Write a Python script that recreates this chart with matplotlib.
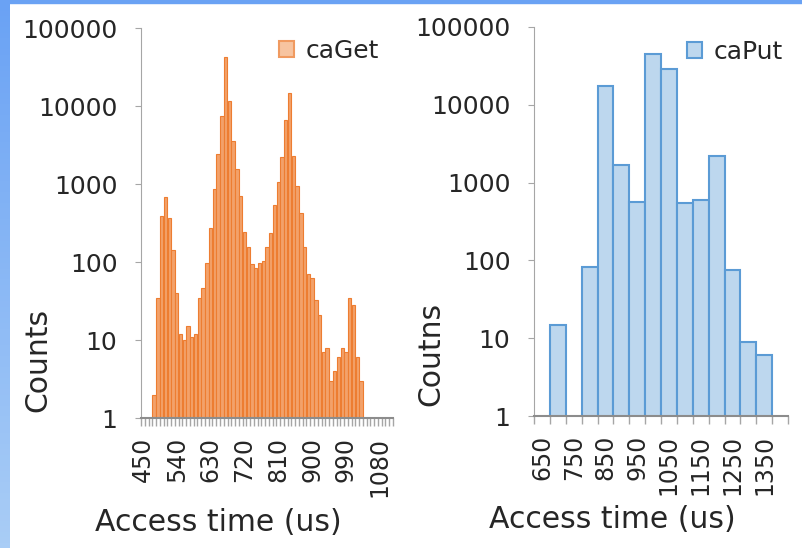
import numpy as np
import matplotlib
matplotlib.use("Agg")
import matplotlib.pyplot as plt
from matplotlib.patches import Patch

# caGet histogram, 10 us bins
caget_bins = [450, 460, 470, 480, 490, 500, 510, 520, 530, 540,
              550, 560, 570, 580, 590, 600, 610, 620, 630, 640,
              650, 660, 670, 680, 690, 700, 710, 720, 730, 740,
              750, 760, 770, 780, 790, 800, 810, 820, 830, 840,
              850, 860, 870, 880, 890, 900, 910, 920, 930, 940,
              950, 960, 970, 980, 990, 1000, 1010, 1020, 1030, 1040,
              1050, 1060, 1070, 1080, 1090, 1100, 1110]
caget_counts = [0, 0, 0, 2, 35, 390, 675, 370, 142, 40,
                12, 10, 15, 11, 12, 35, 46, 97, 270, 860,
                2400, 7500, 42000, 11500, 3600, 1560, 710, 245, 157, 95,
                85, 98, 102, 157, 234, 535, 1070, 2240, 6600, 14500,
                2280, 950, 420, 155, 71, 62, 33, 21, 7, 8,
                3, 4, 6, 8, 7, 35, 28, 6, 3, 0,
                0, 0, 0, 0, 0, 0, 0]

# caPut histogram, 50 us bins
caput_bins = [650, 700, 750, 800, 850, 900, 950, 1000,
              1050, 1100, 1150, 1200, 1250, 1300, 1350, 1400]
caput_counts = [0, 15, 0, 82, 17500, 1700, 570, 45500,
                29000, 540, 600, 2200, 75, 9, 6, 0]

txt = "#262626"
grey = "#A6A6A6"

fig = plt.figure(figsize=(8.02, 5.48), dpi=100)

# blue frame on top and left edge
frame = fig.add_axes([0, 0, 10 / 802, 1])
grad = np.linspace(0, 1, 100).reshape(-1, 1)
frame.imshow(grad, aspect="auto", cmap=matplotlib.colors.LinearSegmentedColormap.from_list(
    "fr", ["#6aa2f4", "#a9cdf6"]), extent=[0, 1, 0, 1])
frame.axis("off")
fig.patches.append(plt.Rectangle((0, 1 - 3 / 548), 1, 3 / 548, transform=fig.transFigure,
                                 color="#6aa2f4", zorder=5))


def style(ax, bins, step, labely, ylab_xy, xlab_xy):
    n = len(bins)
    ax.set_yscale("log")
    ax.set_ylim(1, 100000)
    ax.set_xlim(-0.5, n - 0.5)
    ax.set_yticks([1, 10, 100, 1000, 10000, 100000])
    ax.set_yticklabels(["1", "10", "100", "1000", "10000", "100000"])
    ax.minorticks_off()
    ax.tick_params(axis="y", length=4, color=grey, pad=13, labelsize=18, labelcolor=txt)
    idx = list(range(0, n, step))
    ax.set_xticks(idx)
    ax.set_xticklabels([str(bins[i]) for i in idx], rotation=90)
    ax.set_xticks(np.arange(-0.5, n, 1.0), minor=True)
    ax.tick_params(axis="x", which="major", length=0, pad=13.5, labelsize=17, labelcolor=txt)
    ax.tick_params(axis="x", which="minor", length=6, color=grey, width=1)
    for s in ["top", "right"]:
        ax.spines[s].set_visible(False)
    ax.spines["left"].set_color(grey)
    ax.spines["bottom"].set_color("#8c8c8c")
    ax.spines["bottom"].set_linewidth(1.5)
    ax.set_ylabel(labely, fontsize=21.5, color=txt)
    ax.yaxis.set_label_coords(*ylab_xy)
    ax.set_xlabel("Access time (us)", fontsize=21.5, color=txt, va="center")
    ax.xaxis.set_label_coords(*xlab_xy)


# left: caGet
ax1 = fig.add_axes([141 / 802, 1 - 418 / 548, 252 / 802, 390 / 548])
x1 = np.arange(len(caget_bins))
c1 = np.array(caget_counts, dtype=float)
m1 = c1 > 0
ax1.bar(x1[m1], c1[m1], width=0.9, color="#f3a16a", edgecolor="#ed7d31", linewidth=0.8)
style(ax1, caget_bins, 9, "Counts", (-0.35, 0.15), (0.305, -0.267))
ax1.legend(handles=[Patch(facecolor="#f7c4a0", edgecolor="#f09a60", linewidth=1.5, label="caGet")],
           loc="center left", bbox_to_anchor=(0.548, 0.941), frameon=False, fontsize=18,
           handlelength=0.6, handleheight=0.6, handletextpad=0.45, borderpad=0, borderaxespad=0,
           labelcolor=txt)

# right: caPut
ax2 = fig.add_axes([534 / 802, 1 - 416 / 548, 254 / 802, 389 / 548])
x2 = np.arange(len(caput_bins))
c2 = np.array(caput_counts, dtype=float)
m2 = c2 > 0
ax2.bar(x2[m2], c2[m2], width=1.0, color="#bdd7ee", edgecolor="#5b9bd5", linewidth=1.5)
style(ax2, caput_bins, 2, "Coutns", (-0.35, 0.16), (0.307, -0.267))
ax2.legend(handles=[Patch(facecolor="#bdd7ee", edgecolor="#5b9bd5", linewidth=1.5, label="caPut")],
           loc="center left", bbox_to_anchor=(0.602, 0.936), frameon=False, fontsize=18,
           handlelength=0.6, handleheight=0.6, handletextpad=0.45, borderpad=0, borderaxespad=0,
           labelcolor=txt)

fig.savefig("out.png", dpi=100)
